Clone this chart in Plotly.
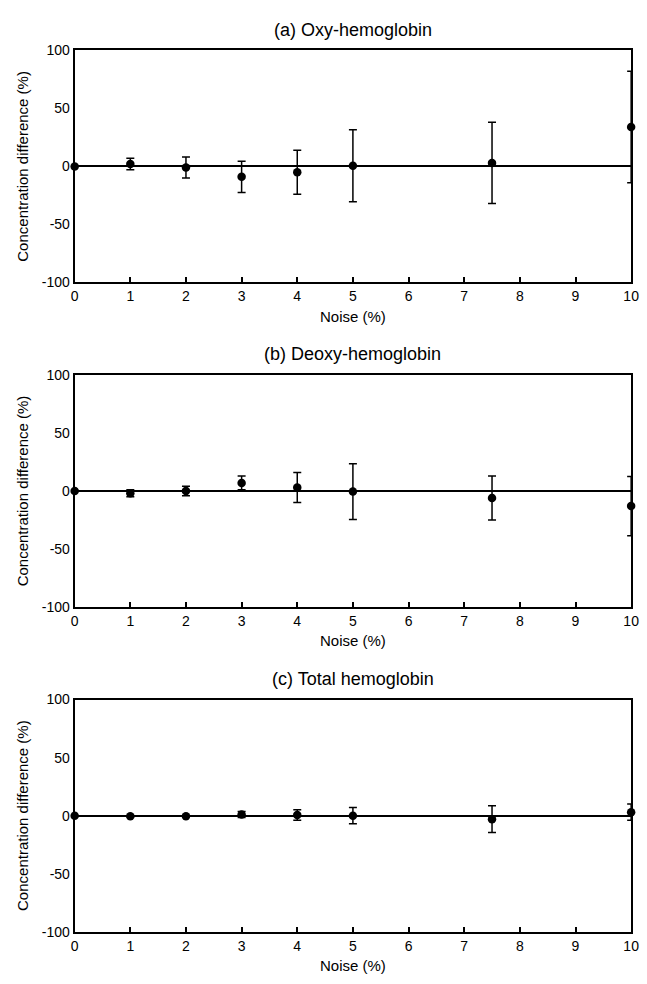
import plotly.graph_objects as go

noise = [0, 1, 2, 3, 4, 5, 7.5, 10]

oxy_mean = [0, 2, -1, -9, -5, 0.5, 3, 34]
oxy_err = [0, 5, 9, 13.5, 19, 31, 35, 48]

deoxy_mean = [0, -2, 0, 7, 3, -0.5, -6, -13]
deoxy_err = [0, 3, 4, 6, 13, 24, 19, 25.5]

total_mean = [0, -0.5, -0.5, 1, 0.5, 0, -3, 3]
total_err = [0, 0.5, 0.5, 2.5, 4.5, 7, 11.5, 7]

titles = ["(a) Oxy-hemoglobin", "(b) Deoxy-hemoglobin", "(c) Total hemoglobin"]
means = [oxy_mean, deoxy_mean, total_mean]
errs = [oxy_err, deoxy_err, total_err]

x_ticks = list(range(0, 11))
y_ticks = [-100, -50, 0, 50, 100]

W, H = 647, 984
left, right = 72, 639
panels_px = [(43, 279), (373, 609), (703, 939)]

FONT = "Liberation Sans, Arial, Helvetica, sans-serif"

fig = go.Figure()
annotations = []
layout = dict(
    width=W, height=H,
    margin=dict(l=0, r=0, t=0, b=0),
    paper_bgcolor="white", plot_bgcolor="white",
    showlegend=False,
    font=dict(family=FONT, size=14, color="black"),
)

for i, (top, bot) in enumerate(panels_px):
    xa = "xaxis" if i == 0 else f"xaxis{i+1}"
    ya = "yaxis" if i == 0 else f"yaxis{i+1}"
    xr = "x" if i == 0 else f"x{i+1}"
    yr = "y" if i == 0 else f"y{i+1}"
    fig.add_trace(go.Scatter(
        x=noise, y=means[i], mode="markers",
        marker=dict(color="black", size=8.5),
        error_y=dict(type="data", array=errs[i], visible=True,
                     color="black", thickness=1.5, width=4),
        xaxis=xr, yaxis=yr, cliponaxis=False,
    ))
    layout[xa] = dict(
        domain=[left / W, right / W], range=[0, 10], anchor=yr,
        tickvals=x_ticks, ticktext=[str(v) for v in x_ticks],
        ticks="inside", ticklen=5, tickwidth=1.5, tickcolor="black",
        showline=True, linecolor="black", linewidth=2, mirror=True,
        showgrid=False, zeroline=False,
        tickfont=dict(size=14, family=FONT),
        title=dict(text="Noise (%)", font=dict(size=15, family=FONT), standoff=8),
    )
    layout[ya] = dict(
        domain=[1 - bot / H, 1 - top / H], range=[-100, 100], anchor=xr,
        tickvals=y_ticks, ticktext=[str(v) for v in y_ticks],
        ticks="", showline=True, linecolor="black", linewidth=2, mirror=True,
        showgrid=False, zeroline=True, zerolinecolor="black", zerolinewidth=1.5,
        tickfont=dict(size=14, family=FONT),
        title=dict(text="Concentration difference (%)", font=dict(size=15, family=FONT), standoff=10),
    )
    annotations.append(dict(
        text=titles[i], x=(left + right) / 2 / W, y=1 - (top - 21) / H,
        xref="paper", yref="paper", xanchor="center", yanchor="middle",
        showarrow=False, font=dict(size=18, family=FONT, color="black"),
    ))

layout["annotations"] = annotations
fig.update_layout(**layout)
fig.write_html("out.html")
